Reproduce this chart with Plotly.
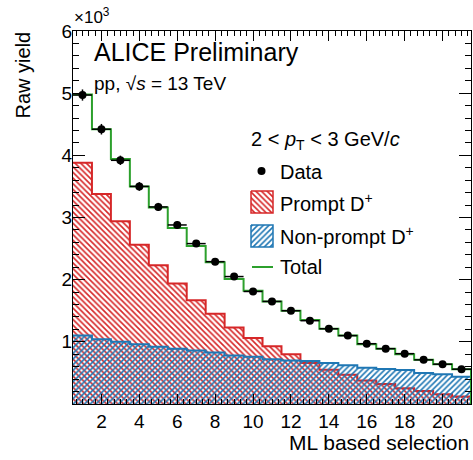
import plotly.graph_objects as go

# ---------------- data ----------------
bins = list(range(1, 22))
data_yield = [4970, 4420, 3920, 3500, 3170, 2880, 2580, 2290, 2050, 1810, 1650,
              1500, 1340, 1210, 1100, 970, 890, 810, 710, 640, 560]
data_err = [90, 85, 75, 70, 65, 60, 55, 50, 48, 45, 42, 40, 38, 36, 35, 33, 32,
            30, 30, 28, 28]
prompt = [3880, 3380, 2940, 2560, 2230, 1940, 1670, 1450, 1230, 1060, 930, 800,
          660, 550, 470, 380, 320, 255, 210, 155, 120]
nonprompt = [1100, 1040, 1000, 960, 920, 890, 860, 830, 780, 760, 720, 700, 690,
             660, 625, 585, 565, 545, 500, 480, 440]
total = [4980, 4420, 3940, 3500, 3160, 2830, 2540, 2280, 2010, 1820, 1650, 1500,
         1350, 1210, 1100, 960, 890, 800, 710, 640, 560]
ytick_vals = [1000, 2000, 3000, 4000, 5000, 6000]
ytick_text = ["1", "2", "3", "4", "5", "6"]

RED = "#d62728"
BLUE = "#1f77b4"
GREEN = "#2ca02c"
FONT = "Liberation Sans"

W, H = 473, 460
ML, MR, MT, MB = 73, 2, 31, 56

edges = [b - 0.5 for b in bins] + [bins[-1] + 0.5]


def step(vals):
    return list(vals) + [vals[-1]]


def px(x):
    return (x - ML) / (W - ML - MR)


def py(y):
    return (H - MB - y) / (H - MT - MB)


def pattern(shape, color):
    return dict(shape=shape, fgcolor=color, bgcolor="rgba(0,0,0,0)", size=4,
                solidity=0.4, fillmode="replace")


fig = go.Figure()

# prompt
fig.add_trace(go.Scatter(
    x=edges, y=step(prompt), mode="lines", line=dict(color=RED, width=2, shape="hv"),
    fill="tozeroy", fillcolor="rgba(0,0,0,0)", fillpattern=pattern("\\", RED),
    showlegend=False, hoverinfo="skip"))
# non-prompt
fig.add_trace(go.Scatter(
    x=edges, y=step(nonprompt), mode="lines", line=dict(color=BLUE, width=2, shape="hv"),
    fill="tozeroy", fillcolor="rgba(0,0,0,0)", fillpattern=pattern("/", BLUE),
    showlegend=False, hoverinfo="skip"))
# total
fig.add_trace(go.Scatter(
    x=edges + [edges[-1]], y=step(total) + [0], mode="lines",
    line=dict(color=GREEN, width=2, shape="hv"), showlegend=False))
# data
fig.add_trace(go.Scatter(
    x=bins, y=data_yield, mode="markers",
    marker=dict(color="black", size=8),
    error_y=dict(type="data", array=data_err, color="black", thickness=1.5, width=0),
    error_x=dict(type="constant", value=0.5, color="black", thickness=1.5, width=0),
    showlegend=False))

# ---------- manual legend glyphs (overlay axes in pixel units) ----------
def box(x0, y0, x1, y1):
    return [x0, x1, x1, x0, x0], [y0, y0, y1, y1, y0]

bx, by = box(251, 191, 273, 213)
fig.add_trace(go.Scatter(
    x=bx, y=by, xaxis="x2", yaxis="y2", mode="lines", fill="toself",
    line=dict(color=RED, width=1.5), fillcolor="rgba(0,0,0,0)",
    fillpattern=pattern("\\", RED), showlegend=False, hoverinfo="skip"))
bx, by = box(251, 225, 273, 247)
fig.add_trace(go.Scatter(
    x=bx, y=by, xaxis="x2", yaxis="y2", mode="lines", fill="toself",
    line=dict(color=BLUE, width=1.5), fillcolor="rgba(0,0,0,0)",
    fillpattern=pattern("/", BLUE), showlegend=False, hoverinfo="skip"))
fig.add_trace(go.Scatter(
    x=[252, 273], y=[267, 267], xaxis="x2", yaxis="y2", mode="lines",
    line=dict(color=GREEN, width=2), showlegend=False, hoverinfo="skip"))
fig.add_trace(go.Scatter(
    x=[261.5], y=[171], xaxis="x2", yaxis="y2", mode="markers",
    marker=dict(color="black", size=8), showlegend=False, hoverinfo="skip"))
# empty trace so the mirrored tick axes (top/right) are drawn
fig.add_trace(go.Scatter(x=[None], y=[None], xaxis="x3", yaxis="y3",
                         showlegend=False, hoverinfo="skip"))

ann = []


def text(x, y, t, size, xanchor="left", yanchor="middle", angle=0):
    ann.append(dict(x=px(x), y=py(y), xref="paper", yref="paper", text=t,
                    showarrow=False, xanchor=xanchor, yanchor=yanchor,
                    textangle=angle, font=dict(family=FONT, size=size, color="black")))


text(92, 52, "ALICE Preliminary", 25)
text(92, 83, "pp, √<i>s</i> = 13 TeV", 19)
text(249, 140, "2 &lt; <i>p</i><sub>T</sub> &lt; 3 GeV/<i>c</i>", 20)
text(278, 172, "Data", 20)
text(278, 202, "Prompt D<sup>+</sup>", 20)
text(278, 236, "Non-prompt D<sup>+</sup>", 20)
text(278, 267, "Total", 20)
text(72, 16, "×10<sup>3</sup>", 17)
text(22, 30, "Raw yield", 20, xanchor="center", yanchor="top", angle=-90)
text(471, 442, "ML based selection", 21, xanchor="right")

tick_style = dict(ticks="inside", tickcolor="black", tickwidth=1, showgrid=False,
                  zeroline=False)
xminor = dict(tick0=0, dtick=1 / 3, ticks="inside", ticklen=5, tickcolor="black",
              tickwidth=1, showgrid=False)
yminor = dict(tick0=0, dtick=200, ticks="inside", ticklen=6, tickcolor="black",
              tickwidth=1, showgrid=False)

fig.update_layout(
    width=W, height=H,
    margin=dict(l=ML, r=MR, t=MT, b=MB, pad=0),
    paper_bgcolor="white", plot_bgcolor="white",
    font=dict(family=FONT, size=19, color="black"),
    annotations=ann,
    xaxis=dict(range=[0.5, 21.5], tickmode="linear", tick0=0, dtick=2, ticklen=10,
               showline=True, linecolor="black", linewidth=1, mirror=True,
               tickfont=dict(family=FONT, size=19), minor=xminor, **tick_style),
    yaxis=dict(range=[0, 6000], tickmode="array", tickvals=ytick_vals,
               ticktext=ytick_text, ticklen=12, ticklabelstandoff=-4,
               showline=True, linecolor="black", linewidth=1, mirror=True,
               tickfont=dict(family=FONT, size=19), minor=yminor, **tick_style),
    xaxis2=dict(overlaying="x", anchor="y2", range=[ML, W - MR], visible=False,
                fixedrange=True),
    yaxis2=dict(overlaying="y", anchor="x2", range=[H - MB, MT], visible=False,
                fixedrange=True),
    xaxis3=dict(overlaying="x", anchor="y", side="top", range=[0.5, 21.5],
                tickmode="linear", tick0=0, dtick=2, ticklen=10,
                showticklabels=False, minor=xminor, **tick_style),
    yaxis3=dict(overlaying="y", anchor="x", side="right", range=[0, 6000],
                tickmode="array", tickvals=ytick_vals, ticklen=12,
                showticklabels=False, minor=yminor, **tick_style),
)

fig.write_html("out.html")
